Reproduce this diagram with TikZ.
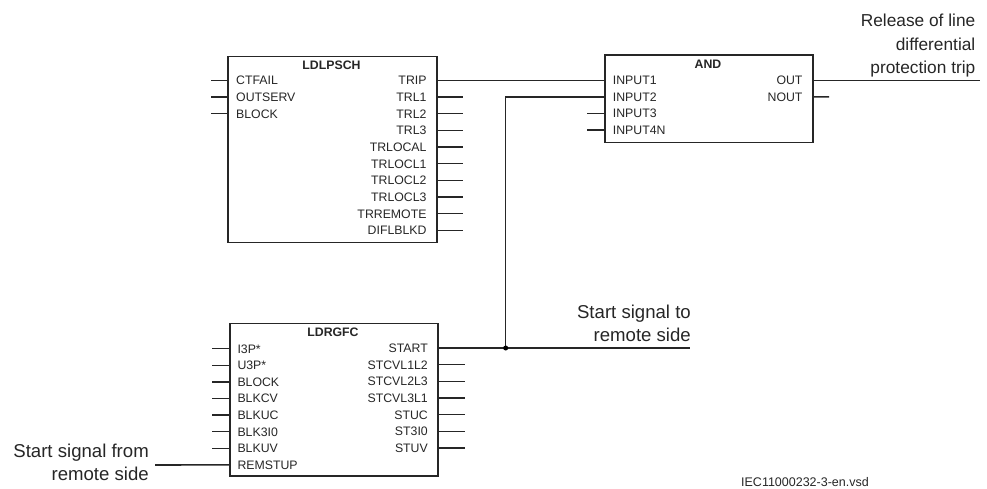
\documentclass[tikz,border=0pt]{standalone}
\usepackage{fontspec}
\setmainfont{Liberation Sans}
\begin{document}
\begin{tikzpicture}[x=1pt,y=-1pt,line cap=butt,
  blockbox/.style={draw=black!85,line width=1.55pt,fill=white,minimum width=0pt,anchor=north west,inner sep=0pt},
  pintext/.style={inner sep=0pt,font=\fontsize{12.3}{14}\selectfont,text=black!85},
  lpin/.style={pintext,anchor=base west},
  rpin/.style={pintext,anchor=base east},
  blocktitle/.style={pintext,font=\fontsize{12.3}{14}\selectfont\bfseries,anchor=base},
  signaltext/.style={inner sep=0pt,align=right,font=\fontsize{18.6}{23.3}\selectfont,text=black!85},
  releasetext/.style={signaltext,font=\fontsize{17.3}{23.2}\selectfont},
  wire/.style={draw=black!85,line width=1.55pt},
  junction/.style={circle,fill=black,inner sep=0pt,minimum size=5pt}]
\useasboundingbox (0,0) rectangle (987,488);
% blocks
\node[blockbox,minimum width=209pt,minimum height=186pt] (ldl) at (227,55.7) {};
\node[blockbox,minimum width=208pt,minimum height=87.4pt] (and) at (604,54.3) {};
\node[blockbox,minimum width=208pt,minimum height=152.3pt] (rgf) at (229,322.7) {};
\node[blocktitle] (ldlt) at (331.5,69) {LDLPSCH};
\node[blocktitle] (andt) at (708,68) {AND};
\node[blocktitle] (rgft) at (333,336) {LDRGFC};
% LDLPSCH inputs
\foreach \i/\t in {0/CTFAIL,1/OUTSERV,2/BLOCK}{
  \node[lpin] (ldlin\i) at (236,80.3+16.67*\i+4.4) {\t};
  \coordinate (ldlia\i) at (227,80.3+16.67*\i);
  \coordinate (ldlib\i) at (211,80.3+16.67*\i);
  \draw[wire] (ldlib\i) -- (ldlia\i);
}
% LDLPSCH outputs
\foreach \i/\t in {0/TRIP,1/TRL1,2/TRL2,3/TRL3,4/TRLOCAL,5/TRLOCL1,6/TRLOCL2,7/TRLOCL3,8/TRREMOTE,9/DIFLBLKD}{
  \node[rpin] (ldlout\i) at (426.7,80.3+16.67*\i+4.4) {\t};
  \coordinate (ldloa\i) at (436,80.3+16.67*\i);
  \coordinate (ldlob\i) at (463,80.3+16.67*\i);
  \ifnum\i>0 \draw[wire] (ldloa\i) -- (ldlob\i);\fi
}
% AND inputs
\foreach \i/\t in {0/INPUT1,1/INPUT2,2/INPUT3,3/INPUT4N}{
  \node[lpin] (andin\i) at (612.7,80.3+16.6*\i+4.4) {\t};
  \coordinate (andia\i) at (604,80.3+16.6*\i);
  \coordinate (andib\i) at (587,80.3+16.6*\i);
  \ifnum\i>1 \draw[wire] (andib\i) -- (andia\i);\fi
}
% AND outputs
\foreach \i/\t in {0/OUT,1/NOUT}{
  \node[rpin] (andout\i) at (802.7,80.3+16.6*\i+4.4) {\t};
  \coordinate (andoa\i) at (812,80.3+16.6*\i);
}
\coordinate (nout) at (829,96.9);
\draw[wire] (andoa1) -- (nout);
% LDRGFC inputs
\foreach \i/\t in {0/I3P*,1/U3P*,2/BLOCK,3/BLKCV,4/BLKUC,5/BLK3I0,6/BLKUV,7/REMSTUP}{
  \node[lpin] (rgfin\i) at (237.3,348.7+16.6*\i+4.4) {\t};
  \coordinate (rgfia\i) at (229,348.7+16.6*\i);
  \coordinate (rgfib\i) at (212,348.7+16.6*\i);
  \ifnum\i<7 \draw[wire] (rgfib\i) -- (rgfia\i);\fi
}
% LDRGFC outputs
\foreach \i/\t in {0/START,1/STCVL1L2,2/STCVL2L3,3/STCVL3L1,4/STUC,5/ST3I0,6/STUV}{
  \node[rpin] (rgfout\i) at (428,348+16.67*\i+4.4) {\t};
  \coordinate (rgfoa\i) at (437,348+16.67*\i);
  \coordinate (rgfob\i) at (465,348+16.67*\i);
  \ifnum\i>0 \draw[wire] (rgfoa\i) -- (rgfob\i);\fi
}
% signal labels
\node[releasetext,anchor=south east] (rel) at (975.5,77) {Release of line\\differential\\protection trip};
\node[signaltext,anchor=south east] (sto) at (691,342) {Start signal to\\remote side};
\node[signaltext,anchor=east] (sfrom) at (149,462.5) {Start signal from\\remote side};
\node[inner sep=0pt,anchor=base east,font=\fontsize{12.5}{14}\selectfont,text=black!85] (iec) at (869,486) {IEC11000232-3-en.vsd};
% connectors
\coordinate (relend) at (980,80.3);
\coordinate (stoend) at (690,348);
\coordinate (fromend) at (155,465);
\coordinate (jct) at (505.7,348);
\draw[wire] (ldloa0) -- (andia0);
\draw[wire] (andoa0) -- (relend);
\draw[wire] (rgfoa0) -- (stoend);
\draw[wire] (jct) |- (andia1);
\draw[wire] (fromend) -- (rgfia7);
\node[junction] (jn) at (jct) {};
\end{tikzpicture}
\end{document}
